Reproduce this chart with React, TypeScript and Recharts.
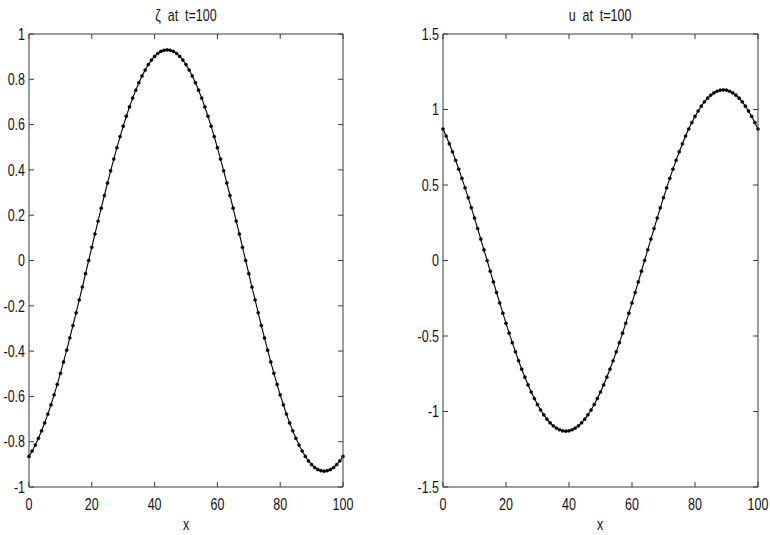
import React from "react";
import { LineChart, Line, XAxis, YAxis } from "recharts";

// x grid, 0..100
const xs = [
  0, 1, 2, 3, 4, 5, 6, 7, 8, 9, 10, 11, 12, 13, 14, 15, 16, 17, 18, 19, 20,
  21, 22, 23, 24, 25, 26, 27, 28, 29, 30, 31, 32, 33, 34, 35, 36, 37, 38, 39,
  40, 41, 42, 43, 44, 45, 46, 47, 48, 49, 50, 51, 52, 53, 54, 55, 56, 57, 58,
  59, 60, 61, 62, 63, 64, 65, 66, 67, 68, 69, 70, 71, 72, 73, 74, 75, 76, 77,
  78, 79, 80, 81, 82, 83, 84, 85, 86, 87, 88, 89, 90, 91, 92, 93, 94, 95, 96,
  97, 98, 99, 100,
];

// ζ at t=100
const zeta = [
  -0.865, -0.841, -0.815, -0.785, -0.752, -0.717, -0.678, -0.637, -0.593, -0.547,
  -0.498, -0.448, -0.396, -0.342, -0.287, -0.231, -0.174, -0.117, -0.058, 0,
  0.058, 0.117, 0.174, 0.231, 0.287, 0.342, 0.396, 0.448, 0.498, 0.547,
  0.593, 0.637, 0.678, 0.717, 0.752, 0.785, 0.815, 0.841, 0.865, 0.885,
  0.901, 0.914, 0.923, 0.928, 0.93, 0.928, 0.923, 0.914, 0.901, 0.885,
  0.865, 0.841, 0.815, 0.785, 0.752, 0.717, 0.678, 0.637, 0.593, 0.547,
  0.498, 0.448, 0.396, 0.342, 0.287, 0.231, 0.174, 0.117, 0.058, 0,
  -0.058, -0.117, -0.174, -0.231, -0.287, -0.342, -0.396, -0.448, -0.498, -0.547,
  -0.593, -0.637, -0.678, -0.717, -0.752, -0.785, -0.815, -0.841, -0.865, -0.885,
  -0.901, -0.914, -0.923, -0.928, -0.93, -0.928, -0.923, -0.914, -0.901, -0.885,
  -0.865,
];

// u at t=100
const u = [
  0.871, 0.824, 0.773, 0.72, 0.664, 0.605, 0.544, 0.481, 0.416, 0.349,
  0.281, 0.212, 0.142, 0.071, 0, -0.071, -0.142, -0.212, -0.281, -0.349,
  -0.416, -0.481, -0.544, -0.605, -0.664, -0.72, -0.773, -0.824, -0.871, -0.914,
  -0.954, -0.99, -1.022, -1.051, -1.075, -1.095, -1.11, -1.121, -1.128, -1.13,
  -1.128, -1.121, -1.11, -1.095, -1.075, -1.051, -1.022, -0.99, -0.954, -0.914,
  -0.871, -0.824, -0.773, -0.72, -0.664, -0.605, -0.544, -0.481, -0.416, -0.349,
  -0.281, -0.212, -0.142, -0.071, 0, 0.071, 0.142, 0.212, 0.281, 0.349,
  0.416, 0.481, 0.544, 0.605, 0.664, 0.72, 0.773, 0.824, 0.871, 0.914,
  0.954, 0.99, 1.022, 1.051, 1.075, 1.095, 1.11, 1.121, 1.128, 1.13,
  1.128, 1.121, 1.11, 1.095, 1.075, 1.051, 1.022, 0.99, 0.954, 0.914,
  0.871,
];

const xTicks = [0, 20, 40, 60, 80, 100];
const zetaTicks = [-1, -0.8, -0.6, -0.4, -0.2, 0, 0.2, 0.4, 0.6, 0.8, 1];
const uTicks = [-1.5, -1, -0.5, 0, 0.5, 1, 1.5];

const data = xs.map((x, i) => ({ x, zeta: zeta[i], u: u[i] }));

const AXIS = "#3a3a3a";
const FONT = "'Liberation Sans', Arial, Helvetica, sans-serif";
const FS = 16;
const SX = 0.78; // labels in the reference are horizontally squeezed
const TL = 5; // inward tick length
const PLOT_H = 453;

// bottom ticks also draw the matching top tick and the top edge of the box
const BottomTick = (props: any) => {
  const { x, y, payload, index, plotW } = props;
  const top = y - PLOT_H;
  return (
    <g>
      <line x1={x} y1={y} x2={x} y2={y - TL} stroke={AXIS} />
      <line x1={x} y1={top} x2={x} y2={top + TL} stroke={AXIS} />
      {index === 0 && <line x1={x} y1={top} x2={x + plotW} y2={top} stroke={AXIS} />}
      <text
        transform={`translate(${x},${y + 23}) scale(${SX},1)`}
        textAnchor="middle"
        fontSize={FS}
        fontFamily={FONT}
        fill="#111"
      >
        {payload.value}
      </text>
    </g>
  );
};

// left ticks also draw the matching right tick and the right edge of the box
const LeftTick = (props: any) => {
  const { x, y, payload, index, plotW } = props;
  const rx = x + plotW;
  return (
    <g>
      <line x1={x} y1={y} x2={x + TL} y2={y} stroke={AXIS} />
      <line x1={rx - TL} y1={y} x2={rx} y2={y} stroke={AXIS} />
      {index === 0 && <line x1={rx} y1={y} x2={rx} y2={y - PLOT_H} stroke={AXIS} />}
      <text
        transform={`translate(${x - 4},${y}) scale(${SX},1)`}
        textAnchor="end"
        dy="0.36em"
        fontSize={FS}
        fontFamily={FONT}
        fill="#111"
      >
        {payload.value}
      </text>
    </g>
  );
};

function Panel({
  dataKey,
  domain,
  ticks,
  width,
  yWidth,
  right,
}: {
  dataKey: string;
  domain: [number, number];
  ticks: number[];
  width: number;
  yWidth: number;
  right: number;
}) {
  const plotW = width - yWidth - right;
  return (
    <LineChart
      width={width}
      height={535}
      data={data}
      margin={{ top: 34, right, bottom: 0, left: 0 }}
    >
      <XAxis
        dataKey="x"
        type="number"
        domain={[0, 100]}
        ticks={xTicks}
        interval={0}
        height={48}
        tickSize={0}
        tickMargin={0}
        tickLine={false}
        tick={<BottomTick plotW={plotW} />}
        axisLine={{ stroke: AXIS }}
      />
      <YAxis
        type="number"
        domain={domain}
        ticks={ticks}
        interval={0}
        width={yWidth}
        tickSize={0}
        tickMargin={0}
        tickLine={false}
        tick={<LeftTick plotW={plotW} />}
        axisLine={{ stroke: AXIS }}
      />
      <Line
        type="linear"
        dataKey={dataKey}
        stroke="#000"
        strokeWidth={1.1}
        dot={{ r: 1.6, fill: "#000", stroke: "#000", strokeWidth: 0.4 }}
        isAnimationActive={false}
      />
    </LineChart>
  );
}

const labelStyle: React.CSSProperties = { whiteSpace: "pre" };

export default function App() {
  return (
    <div
      style={{
        position: "absolute",
        left: 0,
        top: 0,
        width: 770,
        height: 535,
        background: "#fff",
      }}
    >
      <div style={{ position: "absolute", left: 0, top: 0 }}>
        <Panel dataKey="zeta" domain={[-1, 1]} ticks={zetaTicks} width={380} yWidth={29} right={37} />
      </div>
      <div style={{ position: "absolute", left: 385, top: 0 }}>
        <Panel dataKey="u" domain={[-1.5, 1.5]} ticks={uTicks} width={385} yWidth={58} right={12} />
      </div>
      <svg
        width={770}
        height={535}
        style={{ position: "absolute", left: 0, top: 0, pointerEvents: "none" }}
      >
        <g fontFamily={FONT} fontSize={FS} fill="#111">
          <text transform={`translate(186,21) scale(${SX},1)`} textAnchor="middle" style={labelStyle}>
            {"ζ  at  t=100"}
          </text>
          <text transform={`translate(600,21) scale(${SX},1)`} textAnchor="middle" style={labelStyle}>
            {"u  at  t=100"}
          </text>
          <text transform={`translate(186,530) scale(${SX},1)`} textAnchor="middle">
            x
          </text>
          <text transform={`translate(600,530) scale(${SX},1)`} textAnchor="middle">
            x
          </text>
        </g>
      </svg>
    </div>
  );
}
